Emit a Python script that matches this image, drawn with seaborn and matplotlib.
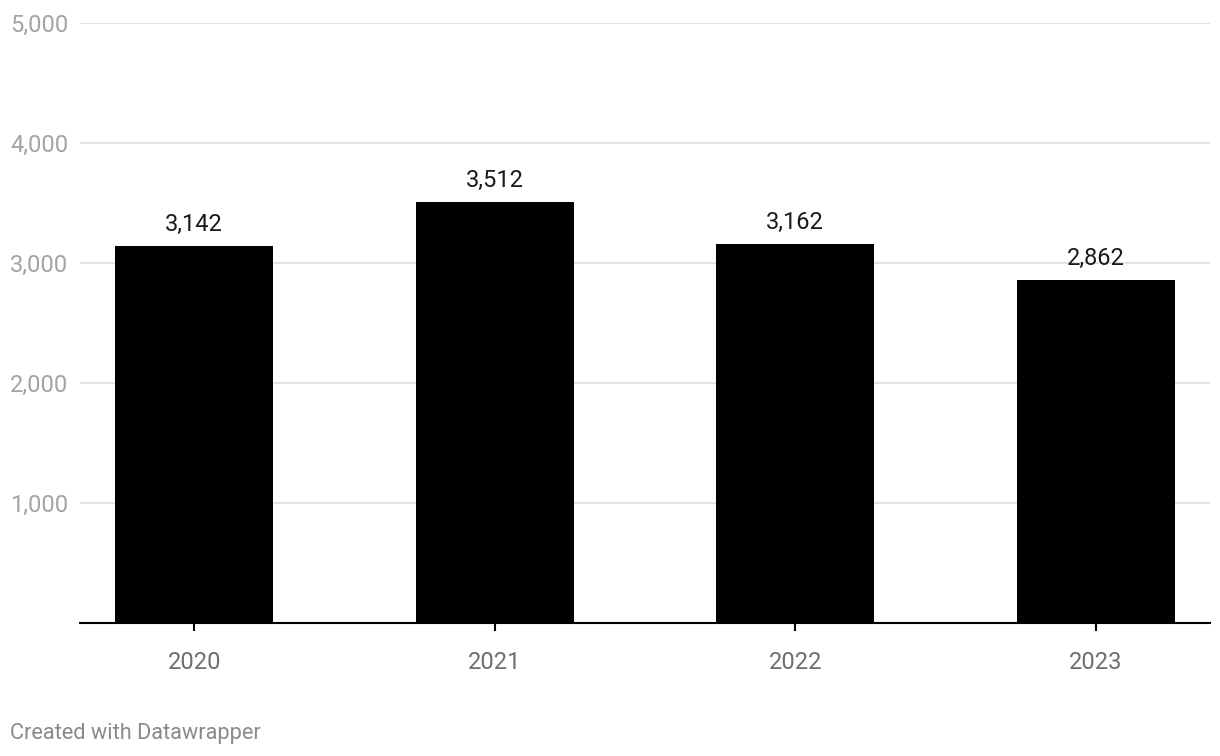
import numpy as np, pandas as pd
import seaborn as sns, matplotlib.pyplot as plt

years  = ["2020", "2021", "2022", "2023"]
values = [3142, 3512, 3162, 2862]
yticks = [1000, 2000, 3000, 4000, 5000]

df = pd.DataFrame({"year": years, "value": values})

sns.set_style("white")
plt.rcParams['font.family'] = ['Roboto', 'DejaVu Sans']

W, H = 1220, 756
fig = plt.figure(figsize=(W/100, H/100), dpi=100)
ax = fig.add_axes([80/W, 133/H, 1130/W, 600/H])

sns.barplot(data=df, x="year", y="value", color="black", saturation=1,
            width=0.525, linewidth=0, ax=ax, zorder=3)

ax.set_ylim(0, 5000)
ax.set_xlim(-0.38, 3.38)
ax.set_yticks(yticks)
ax.set_yticklabels([f"{v:,}" for v in yticks])
ax.grid(axis="y", color="#e1e1e1", lw=1.3, zorder=0)
ax.tick_params(axis="y", length=0, pad=50.4, labelsize=17, labelcolor="#a3a3a3")
for lab in ax.get_yticklabels():
    lab.set_horizontalalignment("left")
ax.tick_params(axis="x", bottom=True, direction="out", length=6, width=1.5,
               color="black", pad=14, labelsize=17, labelcolor="#6e6e6e")
ax.set_xlabel("")
ax.set_ylabel("")
for s in ["top", "right", "left"]:
    ax.spines[s].set_visible(False)
ax.spines["bottom"].set_color("black")
ax.spines["bottom"].set_linewidth(1.5)
ax.spines["bottom"].set_zorder(4)

for i, v in enumerate(values):
    ax.annotate(f"{v:,}", (i, v), xytext=(0, 7), textcoords="offset points",
                ha="center", va="bottom", fontsize=17, color="#1a1a1a")

fig.text(10/W, 1 - 733/H, "Created with Datawrapper", ha="left", va="center",
         fontsize=15.7, color="#8a8a8a")

fig.savefig("out.png", dpi=100)
